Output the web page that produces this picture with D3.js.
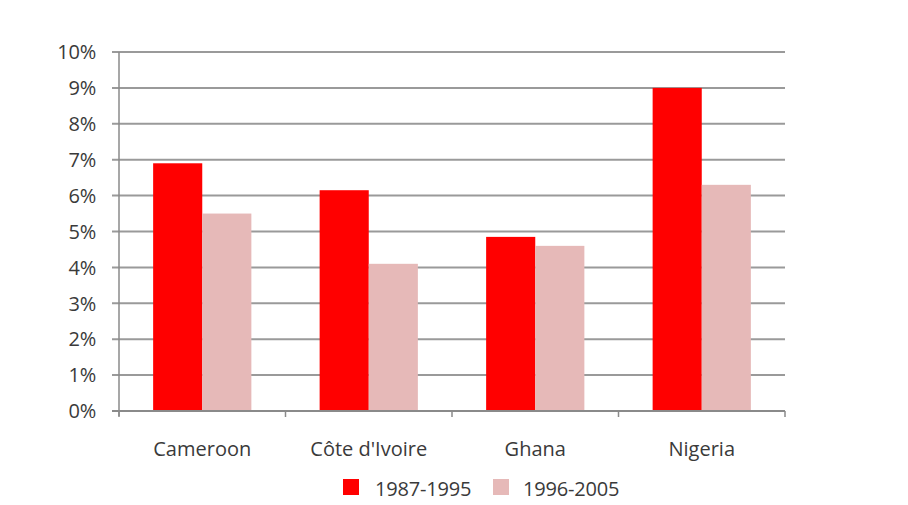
<!DOCTYPE html>
<html><head><meta charset="utf-8">
<script src="https://cdn.jsdelivr.net/npm/d3@7"></script>
<style>body{margin:0;background:#fff}svg{display:block}text{font-family:"Open Sans",Lato,sans-serif;fill:#3a3a3a}</style>
</head><body><svg id="c" width="908" height="505"></svg>
<script>
const categories = ["Cameroon", "Côte d'Ivoire", "Ghana", "Nigeria"];
const seriesNames = ["1987-1995", "1996-2005"];
const s1987 = [6.9, 6.15, 4.85, 9.0];
const s1996 = [5.5, 4.1, 4.6, 6.3];
const yTicks = [0,1,2,3,4,5,6,7,8,9,10];
const colors = ["#FF0000", "#E6B9B8"];

const svg = d3.select("#c");
const L = 119, R = 785, T = 52, B = 411;
const x = d3.scaleBand().domain(categories).range([L, R]).paddingInner(0).paddingOuter(0);
const y = d3.scaleLinear().domain([0, 10]).range([B, T]);
const catPad = 0.205;

// gridlines
svg.append("g").selectAll("line").data(yTicks).join("line")
  .attr("x1", L - 7).attr("x2", R).attr("y1", d => y(d)).attr("y2", d => y(d))
  .attr("stroke", "#9a9a9a").attr("stroke-width", 2);

// y labels
svg.append("g").selectAll("text").data(yTicks).join("text")
  .attr("x", 96).attr("y", d => y(d)).attr("dy", "0.36em").attr("text-anchor", "end")
  .attr("font-size", 20).attr("letter-spacing", -0.2).text(d => d + "%");

// bars
const data = [s1987, s1996];
const g = svg.append("g");
categories.forEach((c, i) => {
  const bw = x.bandwidth() * (1 - 2*catPad) / 2;
  const x0 = x(c) + x.bandwidth()*catPad;
  data.forEach((s, j) => {
    g.append("rect").attr("x", x0 + j*bw).attr("width", bw)
      .attr("y", y(s[i])).attr("height", y(0) - y(s[i])).attr("fill", colors[j]);
  });
});

// y axis line
svg.append("line").attr("x1", L).attr("x2", L).attr("y1", T).attr("y2", B + 5)
  .attr("stroke", "#8a8a8a").attr("stroke-width", 1.5);
// x axis line
svg.append("line").attr("x1", L - 7).attr("x2", R).attr("y1", B).attr("y2", B)
  .attr("stroke", "#8a8a8a").attr("stroke-width", 2);
// x category ticks
const bounds = categories.map(c => x(c)).concat([R]);
svg.append("g").selectAll("line").data(bounds).join("line")
  .attr("x1", d => d).attr("x2", d => d).attr("y1", B).attr("y2", B + 6)
  .attr("stroke", "#8a8a8a").attr("stroke-width", 1.5);

// x labels
svg.append("g").selectAll("text").data(categories).join("text")
  .attr("x", d => x(d) + x.bandwidth()/2).attr("y", 456).attr("text-anchor", "middle")
  .attr("font-size", 20).attr("letter-spacing", 0).text(d => d);

// legend
const leg = svg.append("g");
const legX = [343, 493];
const legTX = [375, 523];
seriesNames.forEach((n, j) => {
  leg.append("rect").attr("x", legX[j]).attr("y", 479).attr("width", 16).attr("height", 16).attr("fill", colors[j]);
  leg.append("text").attr("x", legTX[j]).attr("y", 489).attr("dy", "0.36em")
    .attr("font-size", 20).attr("letter-spacing", -0.2).text(n);
});
</script></body></html>
